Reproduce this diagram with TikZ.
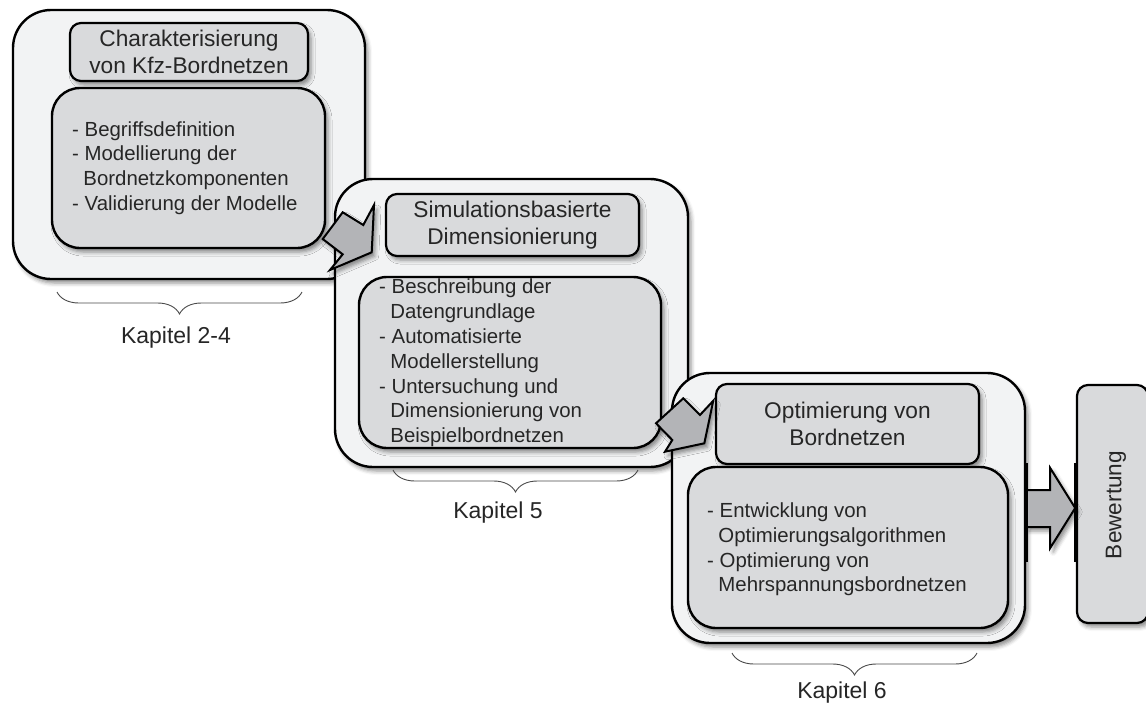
\documentclass[tikz,border=0pt]{standalone}
\usepackage{fontspec}
\setmainfont{Liberation Sans}
\usetikzlibrary{shadows.blur,decorations.pathreplacing,calc}
\definecolor{outerfill}{HTML}{F2F3F4}
\definecolor{innerfill}{HTML}{D9DADC}
\definecolor{arrowfill}{HTML}{B3B4B7}
\definecolor{txt}{HTML}{262626}
\definecolor{bracecol}{HTML}{4A4A4A}
\tikzset{
  shad/.style={blur shadow={shadow xshift=3pt, shadow yshift=-4pt, shadow blur radius=4pt, shadow opacity=45}},
  outerbox/.style={draw=black, line width=2.4pt, fill=outerfill, rounded corners=38pt, inner sep=0pt, shad},
  titlebox/.style={draw=black, line width=2.2pt, fill=innerfill, rounded corners=11pt, inner sep=0pt, shad},
  contentbox/.style={draw=black, line width=2.4pt, fill=innerfill, rounded corners=28pt, inner sep=0pt, shad},
  titletext/.style={text=txt, align=center, inner sep=0pt, font=\fontsize{22.7}{27}\selectfont},
  bodytext/.style={text=txt, align=left, inner sep=0pt, anchor=west, font=\fontsize{20.4}{24.8}\selectfont},
  kaptext/.style={text=txt, inner sep=0pt, font=\fontsize{23}{27}\selectfont},
  bracestyle/.style={draw=bracecol, line width=0.9pt, decorate, decoration={brace, mirror, amplitude=22pt}},
  blockarrow/.style={draw=black, line width=2pt, fill=arrowfill, line join=miter, shad},
  bar/.style={draw=black, line width=4pt},
}
\newcommand{\ind}{\hspace*{0.55em}}
\begin{document}
\begin{tikzpicture}[x=1pt,y=-1pt]
\useasboundingbox (0,0) rectangle (1146,707);

% ---------- Box 1 ----------
\node[outerbox, minimum width=352pt, minimum height=269pt] (o1) at (189,144.5) {};
\node[titlebox, minimum width=238pt, minimum height=58pt] (t1) at (189,52) {};
\node[titletext] (t1txt) at (t1.center) {Charakterisierung\\von Kfz-Bordnetzen};
\node[contentbox, minimum width=273pt, minimum height=160pt] (i1) at (188.5,168) {};
\node[bodytext] (i1txt) at (72,168) {- Begriffsdefinition\\- Modellierung der\\\ind Bordnetzkomponenten\\- Validierung der Modelle};
\coordinate (br1a) at (57,292);
\coordinate (br1b) at (302,292);
\draw[bracestyle] (br1a) -- (br1b);
\node[kaptext] (k1) at (176,338) {Kapitel 2-4};

% ---------- Box 2 ----------
\node[outerbox, minimum width=353pt, minimum height=288pt] (o2) at (511.5,323) {};
\node[titlebox, minimum width=253pt, minimum height=62pt] (t2) at (512.5,225) {};
\node[titletext] (t2txt) at (t2.center) {Simulationsbasierte\\Dimensionierung};
\node[contentbox, minimum width=302pt, minimum height=171pt] (i2) at (510,362.5) {};
\node[bodytext] (i2txt) at (379,363) {- Beschreibung der\\\ind Datengrundlage\\- Automatisierte\\\ind Modellerstellung\\- Untersuchung und\\\ind Dimensionierung von\\\ind Beispielbordnetzen};
\coordinate (br2a) at (393,470);
\coordinate (br2b) at (638,470);
\draw[bracestyle] (br2a) -- (br2b);
\node[kaptext] (k2) at (498,513) {Kapitel 5};

% arrow 1 -> 2
\coordinate (a1) at (322.7,239);
\draw[blockarrow] (a1) -- ++(20,-26.7) -- ++(20.6,12.7) -- ++(10.7,-20) -- ++(-2.3,47.3) -- ++(-41.7,17.7) -- ++(12.7,-15.7) -- cycle;

% ---------- Box 3 ----------
\node[outerbox, minimum width=353pt, minimum height=270pt] (o3) at (848.5,508) {};
\node[titlebox, minimum width=263pt, minimum height=80pt] (t3) at (847.5,424) {};
\node[titletext] (t3txt) at (t3.center) {Optimierung von\\Bordnetzen};
\node[contentbox, minimum width=320pt, minimum height=161pt] (i3) at (848,547.5) {};
\node[bodytext] (i3txt) at (707,549.5) {- Entwicklung von\\\ind Optimierungsalgorithmen\\- Optimierung von\\\ind Mehrspannungsbordnetzen};
\coordinate (br3a) at (732,653);
\coordinate (br3b) at (977,653);
\draw[bracestyle] (br3a) -- (br3b);
\node[kaptext] (k3) at (842,693) {Kapitel 6};

% arrow 2 -> 3
\coordinate (a2) at (656,423.3);
\draw[blockarrow] (a2) -- ++(27.3,-25) -- ++(16.7,16.7) -- ++(13.3,-14.3) -- ++(-9,42.6) -- ++(-39.3,8.4) -- ++(7.3,-11.7) -- cycle;

% ---------- Bewertung ----------
\node[titlebox, minimum width=71pt, minimum height=238pt] (bew) at (1112.5,504) {};
\node[text=txt, inner sep=0pt, rotate=90, font=\fontsize{22.6}{27}\selectfont] (bewtxt) at (1116,505) {Bewertung};

% arrow 3 -> Bewertung
\draw[blockarrow] ($(o3.east)+(0,-18)$) -- ++(24,0) -- ++(0,-22) -- ++(25,40) -- ++(-25,40) -- ++(0,-21) -- ++(-24,0) -- cycle;
\draw[bar] ($(o3.east)+(0,-45)$) -- ($(o3.east)+(0,54)$);
\draw[bar] ($(bew.west)+(0,-41)$) -- ($(bew.west)+(0,58)$);
\end{tikzpicture}
\end{document}
